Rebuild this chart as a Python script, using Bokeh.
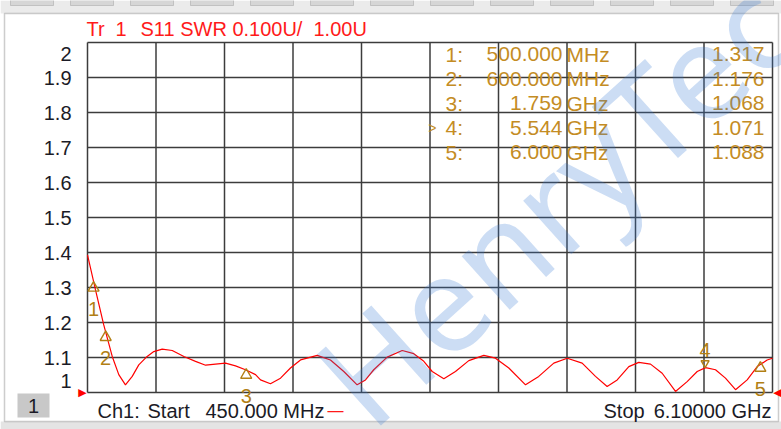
import math
from bokeh.plotting import figure
from bokeh.models import ColumnDataSource, Label, LabelSet, BoxAnnotation, Range1d
from bokeh.core.properties import value
from bokeh.embed import file_html
from bokeh.resources import INLINE

# ---------------- data ----------------
freq_ghz = [0.45, 0.516, 0.584, 0.654, 0.708, 0.763, 0.819, 0.873, 0.942, 0.997,
            1.066, 1.149, 1.245, 1.341, 1.424, 1.506, 1.588, 1.671, 1.753, 1.836,
            1.877, 1.959, 2.042, 2.124, 2.207, 2.345, 2.454, 2.564, 2.674, 2.743,
            2.811, 2.922, 3.046, 3.141, 3.224, 3.293, 3.389, 3.485, 3.595, 3.719,
            3.815, 3.925, 4.063, 4.172, 4.296, 4.407, 4.530, 4.640, 4.736, 4.819,
            4.915, 4.997, 5.094, 5.190, 5.300, 5.396, 5.479, 5.548, 5.630, 5.712,
            5.795, 5.891, 5.974, 6.056, 6.10]
swr = [1.393, 1.293, 1.193, 1.103, 1.051, 1.022, 1.046, 1.079, 1.103, 1.117,
       1.124, 1.120, 1.103, 1.089, 1.078, 1.081, 1.084, 1.076, 1.065, 1.051,
       1.036, 1.025, 1.041, 1.070, 1.093, 1.106, 1.093, 1.060, 1.022, 1.036,
       1.065, 1.101, 1.120, 1.111, 1.089, 1.060, 1.039, 1.060, 1.091, 1.106,
       1.098, 1.070, 1.022, 1.046, 1.084, 1.098, 1.084, 1.046, 1.017, 1.036,
       1.074, 1.086, 1.081, 1.055, 1.003, 1.031, 1.060, 1.071, 1.065, 1.041,
       1.008, 1.036, 1.074, 1.093, 1.098]

marker_ids = ["1", "2", "3", "4", "5"]
marker_freq_ghz = [0.500, 0.600, 1.759, 5.544, 6.000]
marker_freq_text = ["500.000", "600.000", "1.759", "5.544", "6.000"]
marker_unit = ["MHz", "MHz", "GHz", "GHz", "GHz"]
marker_swr = [1.317, 1.176, 1.068, 1.071, 1.088]
active_marker = "4"

y_tick_values = [1.0, 1.1, 1.2, 1.3, 1.4, 1.5, 1.6, 1.7, 1.8, 1.9, 2.0]
y_tick_labels = ["1", "1.1", "1.2", "1.3", "1.4", "1.5", "1.6", "1.7", "1.8", "1.9", "2"]
x_start_ghz = 0.45
x_stop_ghz = 6.10
x_divisions = 10

title_parts = ["Tr", "1", "S11 SWR 0.100U/", "1.00U"]
start_text = ["Ch1:", "Start", "450.000 MHz"]
stop_text = ["Stop", "6.10000 GHz"]
channel_box_text = "1"
watermark_text = "HenryTech"

# ---------------- layout (pixels) ----------------
W, H = 781, 429
GRID_L, GRID_R, GRID_T, GRID_B = 87, 772, 42, 392   # graticule box on the canvas
PXX = (GRID_R - GRID_L) / (x_stop_ghz - x_start_ghz)
PXY = (GRID_B - GRID_T) / (y_tick_values[-1] - y_tick_values[0])

GOLD = "#c48c24"
MARK = "#b27f14"
DARK = "#1b1b26"
RED = "#ff1a1a"
GRID = "#3c3c3c"
FONT = "Liberation Sans"

x_range = Range1d(x_start_ghz - GRID_L / PXX, x_start_ghz + (W - GRID_L) / PXX)
y_range = Range1d(y_tick_values[0] - (H - GRID_B) / PXY, y_tick_values[0] + GRID_B / PXY)

p = figure(width=W, height=H, output_backend="svg", toolbar_location=None,
           x_range=x_range, y_range=y_range,
           x_axis_location=None, y_axis_location=None,
           min_border=0, min_border_left=0, min_border_right=0,
           min_border_top=0, min_border_bottom=0)
p.background_fill_color = "white"
p.border_fill_color = "white"
p.outline_line_color = None
p.xgrid.visible = False
p.ygrid.visible = False


def sx(xp):
    return xp


def sy(yp):
    return H - yp


def add_box(l, r, t, b, fill=None, line=None, lw=1.0):
    p.add_layout(BoxAnnotation(left=sx(l), right=sx(r), top=sy(t), bottom=sy(b),
                               left_units="screen", right_units="screen",
                               top_units="screen", bottom_units="screen",
                               fill_color=fill, fill_alpha=1.0 if fill else 0.0,
                               line_color=line, line_width=lw, level="underlay"))


# window chrome
add_box(0, W, 0, 13, fill="#ebebeb")
for k in range(13):
    add_box(10 + 60 * k, 53 + 60 * k, -4, 5, fill="#d6d6d6", line="#7a7a7a")
add_box(0, W, 421, H, fill="#e4e4e4")
add_box(4, 778, 13, 421, fill="white", line="#5a5a5a", lw=1.5)
# channel indicator box
add_box(17, 49, 393, 417, fill="#c8c8c8")

# graticule
step = (x_stop_ghz - x_start_ghz) / x_divisions
x_ticks = [x_start_ghz + i * step for i in range(x_divisions + 1)]
p.segment(x0=x_ticks, y0=[y_tick_values[0]] * len(x_ticks),
          x1=x_ticks, y1=[y_tick_values[-1]] * len(x_ticks),
          line_color=GRID, line_width=1.5)
p.segment(x0=[x_start_ghz] * len(y_tick_values), y0=y_tick_values,
          x1=[x_stop_ghz] * len(y_tick_values), y1=y_tick_values,
          line_color=GRID, line_width=1.5)

# y tick labels (end labels nudged inward like the instrument does)
nudge = 11.5 / PXY
label_pos = list(y_tick_values)
label_pos[0] = y_tick_values[0] + nudge
label_pos[-1] = y_tick_values[-1] - nudge
p.text(x=[x_start_ghz] * len(label_pos), y=label_pos, text=y_tick_labels,
       x_offset=-16, text_align="right", text_baseline="middle",
       text_font=value(FONT), text_font_size="20px", text_color=DARK)

# trace
p.line(freq_ghz, swr, line_color="#ff0000", line_width=1.2)

# marker symbols (apex / tip placed on the marker value)
tri_size = 11
tri_off = (tri_size / 2) * math.sqrt(3) * 2 / 3 / PXY
inv_size = 8
inv_off = (inv_size / 2) * math.sqrt(3) * 2 / 3 / PXY
m_y, m_type, m_size = [], [], []
for mid, v in zip(marker_ids, marker_swr):
    if mid == active_marker:
        m_y.append(v + inv_off)
        m_type.append("inverted_triangle")
        m_size.append(inv_size)
    else:
        m_y.append(v - tri_off)
        m_type.append("triangle")
        m_size.append(tri_size)
msrc = ColumnDataSource(dict(x=marker_freq_ghz, y=m_y, m=m_type, s=m_size))
p.scatter(x="x", y="y", marker="m", size="s", source=msrc, fill_color=None,
          line_color=MARK, line_width=1.4)

# marker numbers
lab_off = [18 if mid == active_marker else -27 for mid in marker_ids]
lsrc = ColumnDataSource(dict(x=marker_freq_ghz, y=marker_swr, t=marker_ids, o=lab_off))
p.add_layout(LabelSet(x="x", y="y", text="t", y_offset="o", source=lsrc,
                      text_align="center", text_baseline="middle", text_font=value(FONT),
                      text_font_size=value("20px"), text_color=MARK))


def add_label(text, xp, yp, align="left", color=DARK, size="20px", font=FONT, **kw):
    p.add_layout(Label(x=sx(xp), y=sy(yp), x_units="screen", y_units="screen", text=text,
                       text_align=align, text_baseline="middle", text_font=font,
                       text_font_size=size, text_color=color, **kw))


# title
for t, xp in zip(title_parts, [86, 115, 140, 313]):
    add_label(t, xp, 28, color=RED)

# marker table
row_y0, row_dy = 53.5, 24.6
for i, mid in enumerate(marker_ids):
    yp = row_y0 + i * row_dy
    if mid == active_marker:
        add_label(">", 436, yp, align="right", color=GOLD, size="14px")
    add_label(mid + ":", 445, yp, color=GOLD, size="21px")
    add_label(marker_freq_text[i], 562, yp, align="right", color=GOLD, size="21px")
    add_label(marker_unit[i], 566, yp, color=GOLD, size="21px")
    add_label(f"{marker_swr[i]:.3f}", 764, yp, align="right", color=GOLD, size="21px")

# footer
for t, xp in zip(start_text, [97, 147, 205]):
    add_label(t, xp, 410)
add_label("\u2014", 327, 410, color=RED, size="16px")
add_label(stop_text[0], 603, 410)
add_label(stop_text[1], 771, 410, align="right")

# channel number
add_label(channel_box_text, 33, 405, align="center")

# start / stop reference arrows
add_label("\u25b6", 82, 392, align="center", color="#ff0000", size="11px", font="DejaVu Sans")
add_label("\u25c0", 777, 392, align="center", color="#ff0000", size="11px", font="DejaVu Sans")

# watermark
add_label(watermark_text, 336, 395, color="#3278d2", size="134px", font="Noto Sans",
          angle=math.radians(42), text_alpha=0.25)

open("out.html", "w").write(file_html(p, INLINE))
